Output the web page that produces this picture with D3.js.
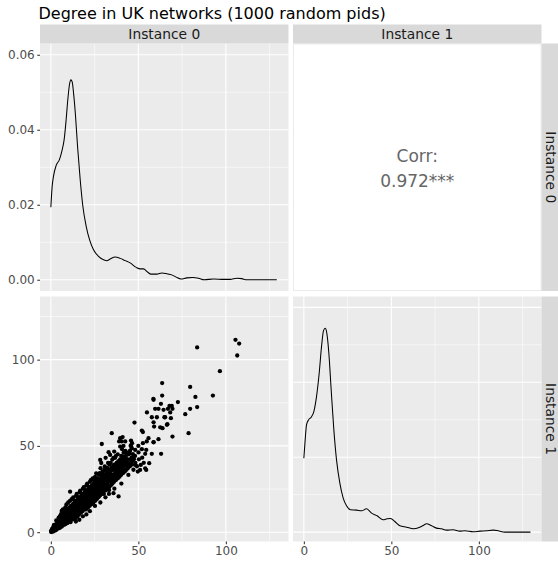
<!DOCTYPE html>
<html><head><meta charset="utf-8">
<script src="https://cdn.jsdelivr.net/npm/d3@7"></script>
<style>body{margin:0;background:#fff}svg{display:block;font-family:"DejaVu Sans",sans-serif}</style>
</head><body>
<svg id="c" width="558" height="562"></svg>
<script>
const title = "Degree in UK networks (1000 random pids)";
const variables = ["Instance 0", "Instance 1"];
const xTicks = [0, 50, 100];
const xMinor = [25, 75, 125];
const densTicks = [0, 0.02, 0.04, 0.06];
const densMinor = [0.01, 0.03, 0.05];
const scatterTicks = [0, 50, 100];
const scatterMinor = [25, 75, 125];
const corrLabel = "Corr:";
const corrValue = "0.972***";

const dens0X = [0,0.76,1.52,3.05,4.95,6.29,7.62,8.76,9.71,10.67,11.43,12.19,12.95,14.1,15.24,16.76,18.29,20.19,22.1,24.38,27.24,30.1,32,33.9,36.76,39.6,42.5,45.3,48.8,51,53,54.9,57.1,60.6,63.4,66.3,69.1,71.6,74.3,77.7,81.1,84.4,87.6,93,98.7,102.5,106.3,109,112,129.1];
const dens0Y = [.01934,.02496,.02763,.03048,.03209,.03431,.03743,.04278,.04813,.05214,.0533,.05276,.04991,.04367,.03565,.02674,.01961,.01426,.0107,.00802,.00624,.00535,.00508,.00553,.00606,.0057,.0051,.0045,.0033,.0029,.0029,.0022,.0015,.0015,.0018,.0016,.0013,.0007,.0002,.0005,.0006,.0004,0,.0002,.0001,.0001,.0004,.0003,0,0];

const dens1X = [0,0.76,1.52,2.67,4.19,5.71,7.24,8.76,10.1,11.24,12.19,13.14,14.29,15.62,17.14,18.67,20.57,22.48,24.38,26.67,30.1,33,35.8,38.7,41.9,45.3,47.6,49.5,52,54.9,58.7,62.5,65.9,68.2,70.1,73,75.8,78.7,81.5,85.3,89.1,92,96.8,100.6,104.4,108.2,111,114.9,129.5];
const dens1Y = [.01973,.02462,.02862,.02996,.03067,.03218,.03618,.0424,.04951,.05378,.0544,.05307,.04773,.03796,.02729,.01929,.01307,.00907,.00702,.00596,.00587,.00569,.00622,.00507,.00436,.00329,.00356,.00364,.00284,.00169,.00133,.00089,.00124,.00178,.00222,.00169,.00107,.00089,.00053,.00062,.00027,.00036,.00009,.00027,.00036,.00053,.00036,0,0];

// scatter: [Instance 0, Instance 1]
const scatterPoints = [
[83.6,107.1],[105.5,111.5],[107.6,109.3],[106.5,102.4],[96.6,93.3],[92.6,79.2],[63.6,86.4],[79.6,84.2],[63.6,79.2],[82.6,78.4],[58.6,77.3],[72.6,75.4],[62.9,74.4],[67.8,73.2],[69.1,73.2],[59.6,71.5],[61.5,71.5],[66.9,71.5],[69.5,71.5],[79.6,71.5],[83.6,72.5],[76.8,68.4],[78.7,57.4],[64.4,70.9],[65.3,66.6],[68.6,66.1],[60.6,66.6],[57.7,66.6],[54.9,69.4],[59,61.2],[62.5,60.8],[66.3,62.2],[69.5,55.4],[63,45.4],[47.8,63.5],[58.7,76.7],[68.2,69.4],[64.9,66.6],[66.6,62.6],[58.7,63.7],[63.8,60.3],[52.0,58.9],[52.6,58.0],[34.8,57.4],[41,55.1],[39.0,52.6],[40.5,52.6],[39.6,49.6],[41.5,50],[45.8,53.1],[46.4,51.6],[45.8,50],[50,50],[52.6,51.6],[54.8,52.6],[58.7,52.1],[61.5,53.9],[53.9,45.4],[57.7,45.4],[42.9,46.4],[45.3,47.3],[48.2,47.7],[52,48.1],[54.5,47.7],[39.6,41],[41.9,42],[44.4,40],[46.3,41],[53.9,37],[54.5,36.1],[51.4,39],[48.2,39],[35.8,43],[37.7,38],[33.9,44.8],[36.2,46.7],[55.8,54.5],[58.7,52.2],[56.2,40],[51,36.1],[49.7,35.1],[47.2,42.9],[29.1,51.1],[33,46.4],[28.2,41.9],[35.8,22.6],[38.7,20.7],[11,23.5],[43.4,40],[41.5,43.8],[44.4,45.8],[46.3,48.7],[42.5,52.6],[39.6,54.5],
[0.2,0.1],[0.1,0.7],[0.6,1.3],[1.2,0.3],[1.4,1.2],[0.8,2.1],[1.5,3.3],[2.3,0.9],[2.1,2.4],[2.7,3.1],[1.8,4.2],
[3.2,1.4],[3.4,2.6],[2.8,4.5],[3.6,5.3],[3.1,6.8],[4.3,2.2],[4.1,3.7],[4.6,4.9],[3.8,6.2],[4.4,8.3],
[5.2,2.5],[5.4,4.2],[4.9,5.7],[5.7,7.3],[5.1,9.2],[5.8,10.4],[6.3,3.3],[6.1,4.8],[6.6,6.3],[5.9,8.2],[6.4,9.9],[6.2,12.3],
[7.3,4.2],[7.1,5.7],[6.8,7.4],[7.6,8.8],[7.2,11.3],[6.9,13.2],[8.2,4.6],[7.9,6.3],[8.5,7.8],[8.1,9.6],[8.7,11.1],[7.8,12.7],[8.3,14.4],
[9.4,5.2],[9.1,7.3],[8.8,8.7],[9.6,10.2],[9.2,12.2],[9.5,13.7],[8.9,16.1],[10.3,6.2],[10.1,7.6],[9.8,9.3],[10.6,11.2],[10.2,12.8],[10.7,14.3],[9.9,17.2],
[11.2,5.8],[11.4,8.2],[10.8,10.3],[11.6,11.7],[11.1,13.2],[11.5,15.4],[10.9,18.1],[12.3,7.3],[12.1,9.2],[11.8,10.9],[12.6,12.4],[12.2,14.2],[12.7,16.3],[11.9,19.1],
[13.2,8.3],[13.4,10.1],[12.9,12.2],[13.6,13.6],[13.1,15.2],[13.5,17.3],[12.8,20.2],[14.3,6.2],[14.1,8.1],[13.8,11.2],[14.6,12.8],[14.2,14.7],[14.7,16.2],[13.9,18.3],[14.4,21.1],
[15.2,9.2],[15.4,11.8],[14.9,14.2],[15.6,15.4],[15.1,17.2],[15.5,19.3],[14.8,22.2],[16.3,7.2],[16.1,10.3],[15.8,13.1],[16.6,14.8],[16.2,16.7],[16.7,18.2],[15.9,20.3],[16.4,23.1],
[17.2,11.3],[17.4,13.4],[16.9,16.2],[17.6,17.3],[17.1,19.2],[17.5,21.3],[16.8,24.1],[18.3,9.2],[18.1,12.2],[17.8,14.7],[18.6,16.8],[18.2,18.7],[18.7,20.2],[17.9,22.3],[18.4,25.2],
[19.2,13.2],[19.4,15.3],[18.9,18.2],[19.6,19.7],[19.1,21.2],[19.5,23.3],[18.8,26.1],[20.3,10.3],[20.1,13.2],[19.8,16.2],[20.6,18.3],[20.2,20.7],[20.7,22.2],[19.9,24.3],[20.4,27.2],
[21.2,14.2],[21.4,17.2],[20.9,19.7],[21.6,21.3],[21.1,23.2],[21.5,25.3],[20.8,28.1],[22.3,12.2],[22.1,15.2],[21.8,18.2],[22.6,20.3],[22.2,22.7],[22.7,24.2],[21.9,26.3],[22.4,29.2],
[23.2,16.2],[23.4,19.2],[22.9,21.7],[23.6,23.2],[23.1,25.2],[23.5,27.3],[22.8,30.1],[24.3,17.2],[24.1,20.2],[23.8,22.7],[24.6,24.3],[24.2,26.2],[24.7,28.2],[23.9,31.1],
[25.2,15.2],[25.4,18.2],[24.9,21.2],[25.6,23.2],[25.1,25.7],[25.5,27.2],[24.8,29.2],[25.3,32.1],[26.3,19.2],[26.1,22.2],[25.8,24.2],[26.6,26.3],[26.2,28.2],[26.7,31.2],[25.9,34.1],
[27.2,20.2],[27.4,23.2],[26.9,25.2],[27.6,27.3],[27.1,30.2],[27.5,33.2],[28.3,17.2],[28.1,21.2],[27.8,24.2],[28.6,26.3],[28.2,28.7],[28.7,31.2],[27.9,34.2],[28.4,37.1],
[29.2,22.2],[29.4,25.2],[28.9,27.7],[29.6,29.3],[29.1,32.2],[29.5,35.2],[28.8,40.1],[30.3,22.2],[30.1,26.2],[29.8,28.7],[30.6,31.2],[30.2,33.2],[30.7,36.1],
[31.2,20.2],[31.4,24.2],[30.9,27.2],[31.6,30.2],[31.1,32.2],[31.5,35.2],[30.8,38.1],[31.3,43.1],[32.3,25.2],[32.1,28.2],[31.8,31.2],[32.6,34.2],[32.2,37.2],[32.7,40.1],
[33.2,22.2],[33.4,26.2],[32.9,29.2],[33.6,33.2],[33.1,36.2],[33.5,39.1],[34.3,27.2],[34.1,31.2],[33.8,34.2],[34.6,37.2],[34.2,40.1],
[35.2,28.2],[35.4,32.2],[34.9,35.7],[35.6,38.2],[35.1,42.1],[36.3,25.2],[36.1,29.2],[35.8,33.2],[36.6,36.2],[36.2,39.2],[36.7,43.1],
[37.2,30.2],[37.4,34.2],[36.9,37.2],[37.6,40.2],[37.1,44.1],[38.3,31.2],[38.1,35.2],[37.8,38.7],[38.6,41.2],[38.2,45.1],
[39.2,32.2],[39.4,36.2],[38.9,40.2],[39.6,42.2],[40.3,28.2],[40.1,33.2],[39.8,37.2],[40.6,41.2],[40.2,44.2],[40.7,48.1],
[41.2,34.2],[41.4,38.2],[40.9,42.2],[41.6,46.1],[42.3,35.2],[42.1,39.2],[41.8,43.2],[42.6,47.1],
[43.2,36.2],[43.4,40.2],[42.9,44.2],[44.3,33.2],[44.1,37.2],[43.8,41.2],[44.6,45.1],
[45.2,38.2],[45.4,42.2],[44.9,46.2],[45.6,50.1],[46.3,39.2],[46.1,43.2],[47.2,36.2],[47.4,42.2],[46.9,45.2],[48.3,40.2],[48.1,44.2],[49.2,38.2],[50.3,42.2],[50.1,46.2],[52.2,43.2],[53.1,40.2],
[6.8,5.1],[7.5,10.1],[8.9,6.9],[9.7,11.6],[10.5,8.5],[11.3,12.6],[11.9,14.8],[12.4,11.5],[13.3,9.3],[13.7,14.4],[14.5,10.1],[14.9,16.4],[15.3,13.2],[15.9,17.8],[16.5,12.1],[16.8,19.6],[17.3,15.2],[17.7,18.4],[18.5,13.6],[18.9,21.4],[19.3,17.1],[19.7,22.5],[20.5,15.1],[20.8,19.4],[21.3,16.3],[21.7,24.4],[22.5,17.3],[22.8,21.5],[23.3,20.4],[23.7,26.2],[24.5,19.1],[24.9,25.3],[25.3,22.4],[25.7,30.3],[26.5,20.3],[26.8,29.6],[27.3,21.8],[27.7,26.3],[28.5,22.8],[28.9,30.3],[29.3,24.1],[29.7,33.6],[30.5,24.3],[30.9,29.8],[31.3,26.1],[31.7,33.4],[32.5,26.7],[32.9,32.6],[33.3,24.4],[33.7,30.6],[34.5,29.1],[34.9,33.3],[35.5,30.2],[35.9,36.9],[36.5,31.3],[36.9,34.8],[37.5,32.2],[37.9,36.4],[38.5,33.3],[38.9,38.2],[39.5,34.2],[39.9,39.1],[40.5,35.3],[40.9,39.9],[41.5,36.2],[42.3,41.1],[43.1,38.3],[43.6,42.3]
];

const svg = d3.select("#c");
const cols = [[40, 288.5], [293, 541.5]];
const rows = [[43.5, 291], [296.5, 541.5]];
const stripTop = 24.5, stripRight = [541.5, 561];

const xDomain = [-6.2, 135.8];
const xs = cols.map(c => d3.scaleLinear().domain(xDomain).range(c));
const yDensTop = d3.scaleLinear().domain([-0.003, 0.063]).range([rows[0][1], rows[0][0]]);
const yDensBot = d3.scaleLinear().domain([-0.0025, 0.0629]).range([rows[1][1], rows[1][0]]);
const yScat = d3.scaleLinear().domain([-5.4, 136.6]).range([rows[1][1], rows[1][0]]);

function panelBg(c, r) {
  svg.append("rect").attr("x", cols[c][0]).attr("y", rows[r][0])
    .attr("width", cols[c][1] - cols[c][0]).attr("height", rows[r][1] - rows[r][0])
    .attr("fill", "#ebebeb");
}
function grid(c, r, x, y, yMaj, yMin) {
  const g = svg.append("g");
  const [x0, x1] = cols[c], [y0, y1] = rows[r];
  yMin.forEach(v => g.append("line").attr("x1", x0).attr("x2", x1).attr("y1", y(v)).attr("y2", y(v)).attr("stroke", "#fff").attr("stroke-width", 0.55));
  xMinor.forEach(v => g.append("line").attr("y1", y0).attr("y2", y1).attr("x1", x(v)).attr("x2", x(v)).attr("stroke", "#fff").attr("stroke-width", 0.55));
  yMaj.forEach(v => g.append("line").attr("x1", x0).attr("x2", x1).attr("y1", y(v)).attr("y2", y(v)).attr("stroke", "#fff").attr("stroke-width", 1.1));
  xTicks.forEach(v => g.append("line").attr("y1", y0).attr("y2", y1).attr("x1", x(v)).attr("x2", x(v)).attr("stroke", "#fff").attr("stroke-width", 1.1));
}

// Panel (0,0): density Instance 0
panelBg(0, 0);
grid(0, 0, xs[0], yDensTop, densTicks, densMinor);
const line0 = d3.line().x((d, i) => xs[0](dens0X[i])).y(d => yDensTop(d)).curve(d3.curveMonotoneX);
svg.append("path").attr("d", line0(dens0Y)).attr("fill", "none").attr("stroke", "#000").attr("stroke-width", 1.05);

// Panel (1,0): correlation
svg.append("rect").attr("x", cols[1][0] + 0.5).attr("y", rows[0][0] + 0.5)
  .attr("width", cols[1][1] - cols[1][0] - 1).attr("height", rows[0][1] - rows[0][0] - 1)
  .attr("fill", "#fff").attr("stroke", "#ebebeb").attr("stroke-width", 1);
const cx = (cols[1][0] + cols[1][1]) / 2, cy = (rows[0][0] + rows[0][1]) / 2;
svg.append("text").attr("x", cx).attr("y", cy - 5).attr("text-anchor", "middle")
  .attr("font-size", 17).attr("fill", "#666").text(corrLabel);
svg.append("text").attr("x", cx).attr("y", cy + 20).attr("text-anchor", "middle")
  .attr("font-size", 17).attr("fill", "#666").text(corrValue);

// Panel (0,1): scatter
panelBg(0, 1);
grid(0, 1, xs[0], yScat, scatterTicks, scatterMinor);
svg.append("g").selectAll("circle").data(scatterPoints).join("circle")
  .attr("cx", d => xs[0](d[0])).attr("cy", d => yScat(d[1])).attr("r", 2.15).attr("fill", "#000");

// Panel (1,1): density Instance 1
panelBg(1, 1);
grid(1, 1, xs[1], yDensBot, densTicks, densMinor);
const line1 = d3.line().x((d, i) => xs[1](dens1X[i])).y(d => yDensBot(d)).curve(d3.curveMonotoneX);
svg.append("path").attr("d", line1(dens1Y)).attr("fill", "none").attr("stroke", "#000").attr("stroke-width", 1.05);

// Axes
function styleAxis(g) {
  g.select(".domain").remove();
  g.selectAll(".tick line").attr("stroke", "#333").attr("stroke-width", 1.05);
  g.selectAll(".tick text").attr("fill", "#4d4d4d").attr("font-size", 12).attr("font-family", "DejaVu Sans");
}
svg.append("g").attr("transform", `translate(${cols[0][0]},0)`)
  .call(d3.axisLeft(yDensTop).tickValues(densTicks).tickFormat(d3.format(".2f")).tickSize(2.75).tickPadding(2.5)).call(styleAxis);
svg.append("g").attr("transform", `translate(${cols[0][0]},0)`)
  .call(d3.axisLeft(yScat).tickValues(scatterTicks).tickSize(2.75).tickPadding(2.5)).call(styleAxis);
xs.forEach(x => {
  svg.append("g").attr("transform", `translate(0,${rows[1][1]})`)
    .call(d3.axisBottom(x).tickValues(xTicks).tickSize(2.75).tickPadding(2.5)).call(styleAxis);
});

// Strips
cols.forEach((c, i) => {
  svg.append("rect").attr("x", c[0]).attr("y", stripTop).attr("width", c[1] - c[0]).attr("height", rows[0][0] - stripTop).attr("fill", "#d9d9d9");
  svg.append("text").attr("x", (c[0] + c[1]) / 2).attr("y", rows[0][0] - 4.5).attr("text-anchor", "middle")
    .attr("font-size", 13.8).attr("fill", "#1a1a1a").text(variables[i]);
});
rows.forEach((r, i) => {
  svg.append("rect").attr("x", stripRight[0]).attr("y", r[0]).attr("width", stripRight[1] - stripRight[0]).attr("height", r[1] - r[0]).attr("fill", "#d9d9d9");
  svg.append("text").attr("transform", `translate(${stripRight[0] + 4.5},${(r[0] + r[1]) / 2}) rotate(90)`)
    .attr("text-anchor", "middle").attr("font-size", 13.8).attr("fill", "#1a1a1a").text(variables[i]);
});

// Title
svg.append("text").attr("x", 38.5).attr("y", 18.5).attr("font-size", 16).attr("fill", "#000").text(title);
</script>
</body></html>
